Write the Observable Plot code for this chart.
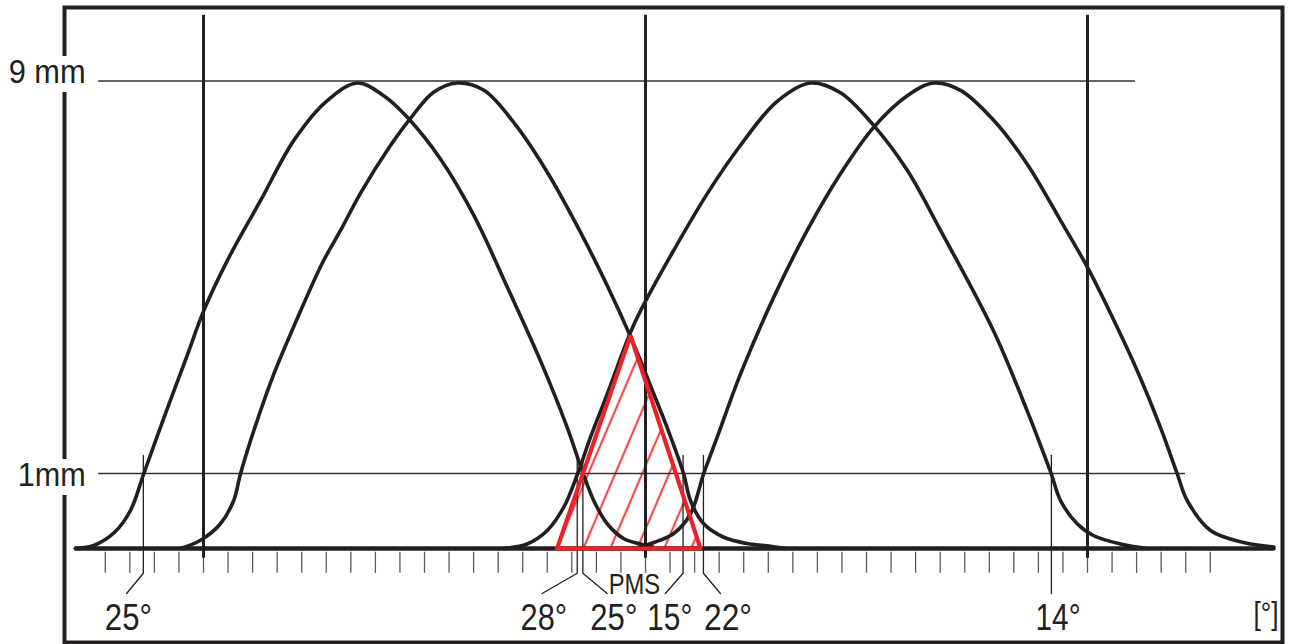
<!DOCTYPE html>
<html>
<head>
<meta charset="utf-8">
<script src="https://cdn.jsdelivr.net/npm/d3@7"></script>
<script src="https://cdn.jsdelivr.net/npm/@observablehq/plot@0.6"></script>
<style>
  html, body { margin: 0; padding: 0; background: #fff; }
  #chart svg { display: block; }
</style>
</head>
<body>
<div id="chart"></div>
<script>
// ---------- DATA (crank angle in degrees, 0 = PMS; valve lift in mm) ----------
// Lift curves: [angle°, lift mm]
const curveA = [[-232.1,0],[-224.7,0.04],[-216.1,0.22],[-209.7,0.51],[-204.3,1.0],[-195.5,2.22],[-186.4,3.44],[-179.9,4.32],[-170.3,5.34],[-156.8,6.56],[-143.2,7.79],[-129.6,8.6],[-117.3,8.96],[-106.6,8.7],[-97.0,8.26],[-83.5,7.41],[-69.9,6.26],[-56.3,4.8],[-42.8,3.3],[-31.9,1.94],[-25.4,1.0],[-21.1,0.64],[-15.6,0.33],[-8.8,0.13],[-2.0,0.06],[3.0,0.02]];
const curveB = [[-189.4,0],[-181.2,0.11],[-173.1,0.33],[-167.7,0.64],[-164.9,1.0],[-158.8,1.98],[-151.1,3.06],[-142.5,4.08],[-131.5,5.3],[-123.8,5.99],[-116.1,6.71],[-103.8,7.69],[-95.7,8.24],[-86.3,8.77],[-76.7,8.96],[-65.8,8.81],[-53.6,8.15],[-40.0,7.14],[-26.5,5.92],[-15.6,4.83],[-6.1,3.79],[-2.0,3.3],[3.3,2.63],[8.8,1.94],[15.5,1.0],[18.3,0.64],[23.7,0.33],[31.9,0.15],[40.7,0.07],[50.9,0.03],[57,0]];
const curveC = [[-57.7,0],[-48.2,0.06],[-40.0,0.24],[-33.3,0.55],[-27.6,1.0],[-22.4,1.74],[-15.6,2.62],[-6.1,3.88],[-2.0,4.32],[11.5,5.55],[25.1,6.7],[38.7,7.69],[53.5,8.58],[67.2,8.96],[79.4,8.76],[93.0,8.09],[106.6,7.18],[120.1,5.96],[141.8,3.9],[155.4,2.28],[162.2,1.4],[165.2,1.0],[169.0,0.64],[175.8,0.33],[182.6,0.17],[193.4,0.06],[204.3,0]];
const curveD = [[-4.1,0],[3.4,0.08],[11.5,0.2],[18.3,0.46],[23.7,1.0],[29.2,1.74],[38.7,3.03],[52.2,4.59],[65.8,5.95],[79.4,7.11],[93.0,8.06],[106.6,8.7],[117.4,8.96],[128.3,8.81],[141.8,8.2],[155.4,7.31],[169.0,6.16],[179.9,5.21],[189.4,4.26],[200.2,3.1],[209.7,1.94],[216.5,1.0],[220.6,0.64],[230.1,0.24],[243.6,0.08],[255.9,0.02]];

// Overlap triangle (valve overlap around PMS)
const overlapTriangle = [[-36.0,0],[-6.1,3.81],[22.4,0]];

// Baseline extent (zero lift)
const baselineDeg = [-232, 255.7];

// Guide verticals: BDC, PMS (TDC), BDC
const guideDeg = [-180, 0, 180];

// Reference lift levels
const refLevels = [9, 1];
const refLabels = ["9 mm", "1mm"];
const refFrom = [-222.7, -222.7];
const refTo = [199.5, 219.9];

// Angle scale ticks (every 10°)
const tickDeg = [-220,-210,-200,-190,-180,-170,-160,-150,-140,-130,-120,-110,-100,-90,-80,-70,-60,-50,-40,-30,-20,-10,0,10,20,30,40,50,60,70,80,90,100,110,120,130,140,150,160,170,180,190,200,210,220,230];

// Timing marks (1 mm lift crossings), their leader ends and labels
const markDeg = [-204.5, -27.8, -25.5, 15.3, 23.6, 165.3];
const markEndDeg = [-211.3, -42.1, -15.6, 8.1, 30.5, 165.3];
const markLabels = ["25°", "28°", "25°", "15°", "22°", "14°"];
const markLabelDeg = [-210.6, -41.4, -12.9, 9.9, 33.6, 168.0];

const pmsLabel = "PMS";
const pmsLabelDeg = -4.5;
const unitLabel = "[°]";
const unitLabelDeg = 252.7;

// ---------- STYLE ----------
const ink = "#231f20";
const red = "#ec2227";
const font = "'Liberation Sans', Arial, sans-serif";
// condensed look of the original lettering: rendered widths in px
const textWidths = {"25°": 47, "28°": 46.5, "15°": 45, "22°": 48, "14°": 45, "PMS": 51.5, "[°]": 25, "9 mm": 77, "1mm": 68};

// The drawing stretches the first millimetre of lift (schematic, not to scale)
const RAMP = 75 / 49.0625;
const liftAxis = v => (v <= 1 ? v * RAMP : RAMP + (v - 1));

// ---------- BUILD TABLES ----------
const curves = [["A", curveA], ["B", curveB], ["C", curveC], ["D", curveD]]
  .flatMap(([id, pts]) => pts.map(([x, y]) => ({id, x, y})));
const tri = overlapTriangle.map(([x, y]) => ({x, y}));
const triClosed = [...tri, tri[0]];
const baseline = baselineDeg.map(x => ({x, y: 0}));
const refs = refLevels.map((y, i) => ({y, x1: refFrom[i], x2: refTo[i], label: refLabels[i]}));
const leaderTop = 1.37, leaderKnee = -0.33, leaderEnd = -0.6;
const leaders = markDeg.flatMap((d, i) => [
  {id: i, x: d, y: leaderTop},
  {id: i, x: d, y: leaderKnee},
  {id: i, x: markEndDeg[i], y: leaderEnd}
]);
const marksText = markLabels.map((t, i) => ({t, x: markLabelDeg[i]}));

const svg = Plot.plot({
  width: 1289,
  height: 644,
  marginTop: 7,
  marginLeft: 64,
  marginRight: 7,
  marginBottom: 2,
  x: {domain: [-180, 180], range: [203, 1087], axis: null},
  y: {transform: liftAxis, domain: [0, liftAxis(9)], range: [548, 80.5], axis: null},
  marks: [
    Plot.frame({stroke: ink, strokeWidth: 4}),
    // angle ticks
    Plot.ruleX(tickDeg, {x: d => d, y1: -0.05, y2: -0.33, stroke: "#5a5a5a", strokeWidth: 1.3}),
    // hatched overlap area
    Plot.areaY(tri, {x: "x", y1: 0, y2: "y", fill: "url(#hatch)", curve: "linear"}),
    // reference lift lines
    Plot.ruleY(refs, {y: "y", x1: "x1", x2: "x2", stroke: "#333", strokeWidth: 1.7}),
    // BDC / PMS / BDC verticals
    Plot.ruleX(guideDeg, {x: d => d, y1: -0.13, y2: 10.34, stroke: ink, strokeWidth: 3}),
    // leaders
    Plot.line(leaders, {x: "x", y: "y", z: "id", stroke: ink, strokeWidth: 1.3, curve: "linear"}),
    // baseline
    Plot.line(baseline, {x: "x", y: "y", stroke: ink, strokeWidth: 4.6, strokeLinecap: "round"}),
    // lift curves
    Plot.line(curves, {x: "x", y: "y", z: "id", stroke: ink, strokeWidth: 3.6, curve: "catmull-rom", strokeLinecap: "round"}),
    // overlap triangle outline
    Plot.line(triClosed, {x: "x", y: "y", stroke: red, strokeWidth: 4.2, strokeLinejoin: "miter", curve: "linear"}),
    // lift labels with white halo (breaks the frame)
    Plot.text(refs.slice(0, 1), {x: -228, y: "y", text: "label", textAnchor: "end", lineAnchor: "bottom", dy: 1.5,
      fontSize: 34, fontFamily: font, fill: ink, stroke: "white", strokeWidth: 18, paintOrder: "stroke"}),
    Plot.text(refs.slice(1, 2), {x: -228, y: "y", text: "label", textAnchor: "end", lineAnchor: "bottom", dy: 12.5,
      fontSize: 33, fontFamily: font, fill: ink, stroke: "white", strokeWidth: 18, paintOrder: "stroke"}),
    // angle labels
    Plot.text(marksText, {x: "x", y: -1.08, text: "t", textAnchor: "middle", lineAnchor: "bottom",
      fontSize: 37, fontFamily: font, fill: ink}),
    Plot.text([pmsLabel], {x: pmsLabelDeg, y: -0.6, text: d => d, textAnchor: "middle", lineAnchor: "bottom",
      fontSize: 30, fontFamily: font, fill: ink}),
    Plot.text([unitLabel], {x: unitLabelDeg, y: -1.01, text: d => d, textAnchor: "middle", lineAnchor: "bottom",
      fontSize: 31, fontFamily: font, fill: ink})
  ]
});

// condensed lettering
d3.select(svg).selectAll("text").each(function() {
  const w = textWidths[this.textContent];
  if (w) d3.select(this).attr("textLength", w).attr("lengthAdjust", "spacingAndGlyphs");
});

// hatch pattern definition
const defs = d3.select(svg).insert("defs", ":first-child");
const pat = defs.append("pattern")
  .attr("id", "hatch")
  .attr("patternUnits", "userSpaceOnUse")
  .attr("width", 24.8).attr("height", 24.8)
  .attr("patternTransform", "rotate(23.1) translate(-4.65,0)");
pat.append("line")
  .attr("x1", 12.4).attr("x2", 12.4).attr("y1", -1).attr("y2", 25.8)
  .attr("stroke", red).attr("stroke-width", 1.8);

document.getElementById("chart").appendChild(svg);
</script>
</body>
</html>
